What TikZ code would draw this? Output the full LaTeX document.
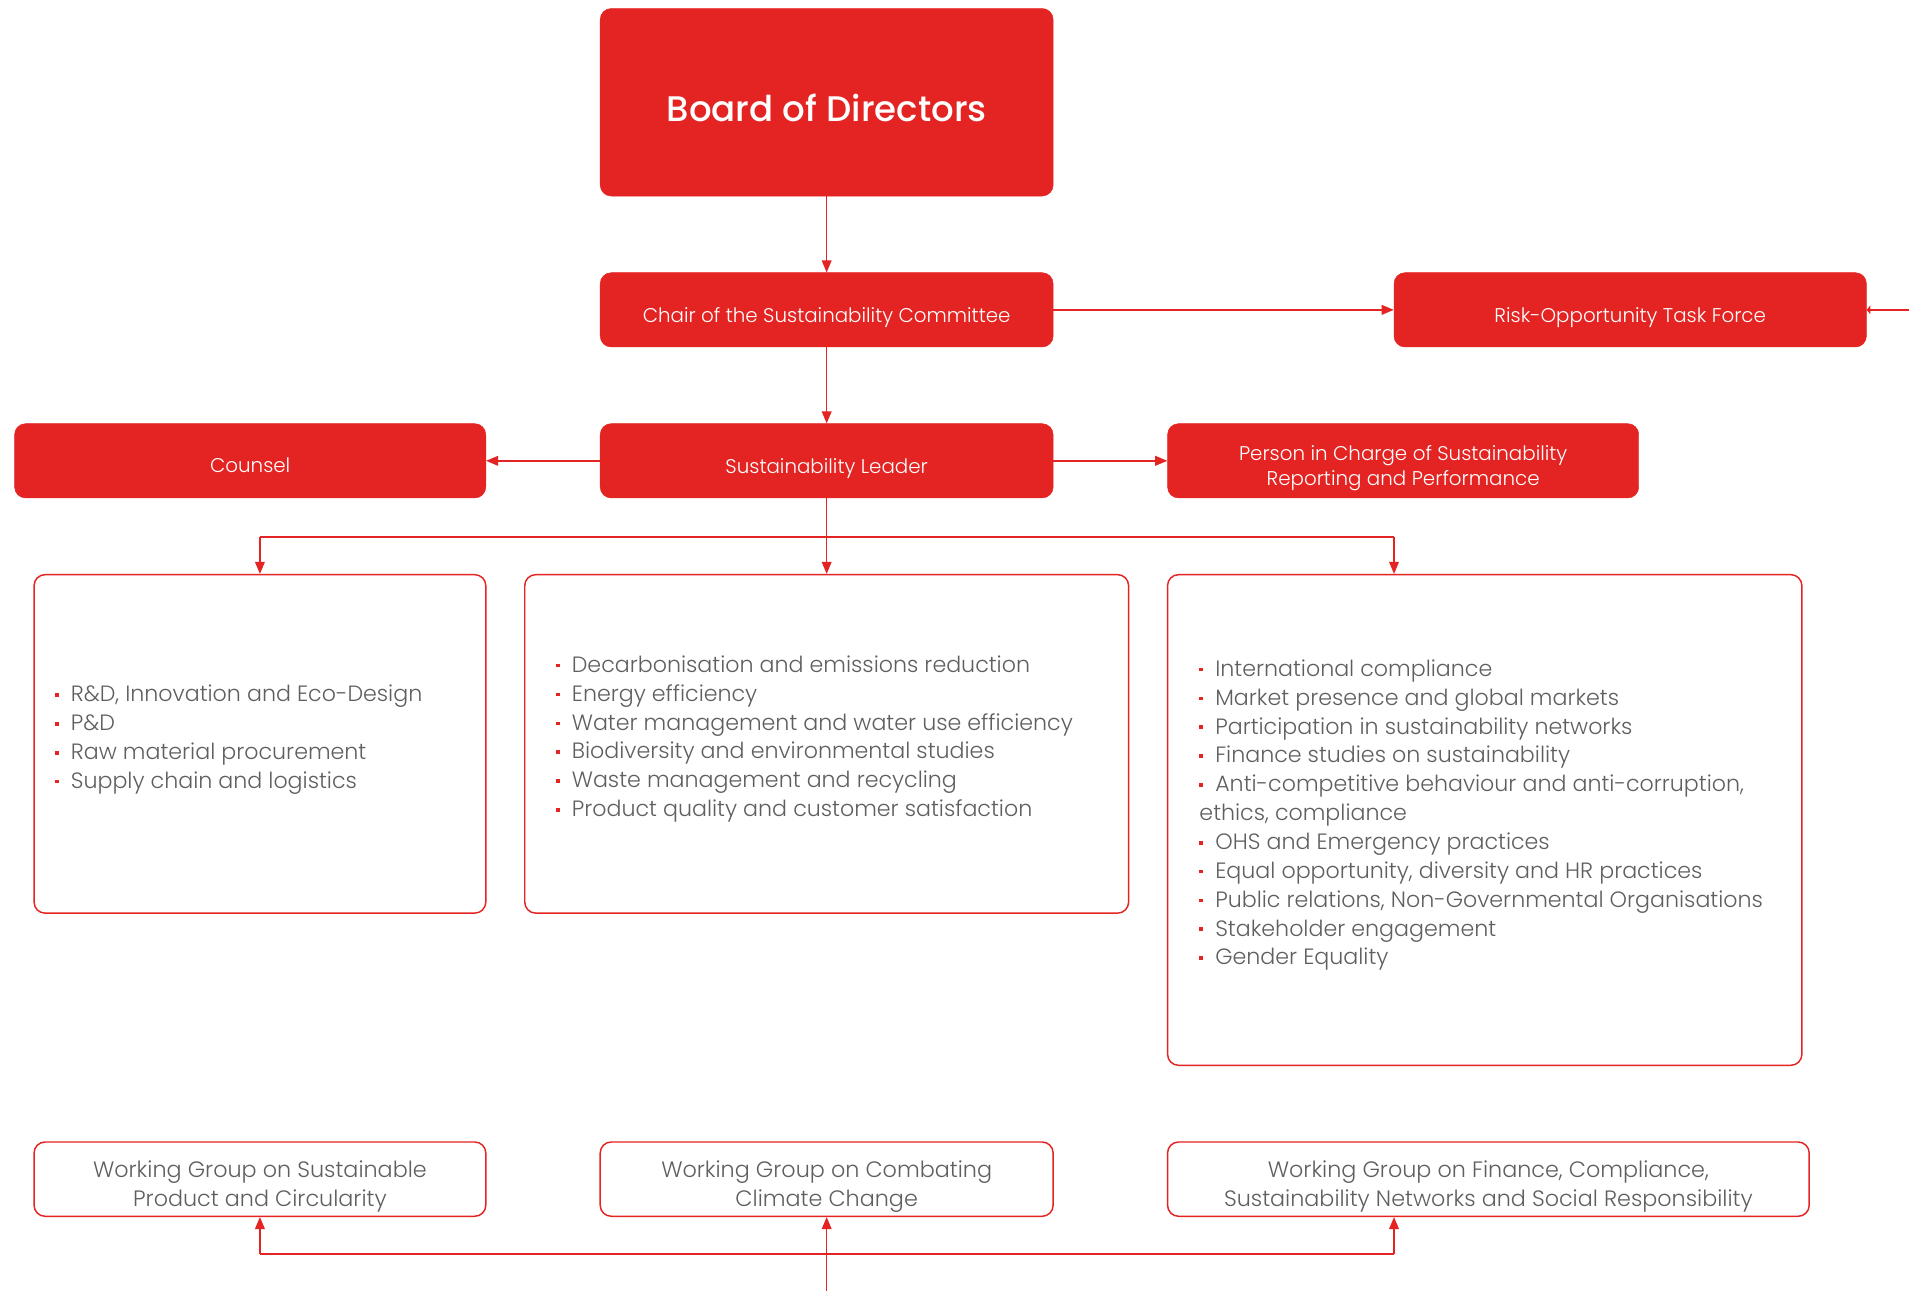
\documentclass[tikz,border=0pt]{standalone}
\usepackage{fontspec}
\setmainfont{Poppins}[UprightFont=* Light, BoldFont=* Medium]
\usetikzlibrary{arrows.meta}
\definecolor{rd}{HTML}{E42422}
\definecolor{gy}{HTML}{5F5F5F}
\newcommand\bl{{\color{rd}\rule[0.22em]{3pt}{3pt}}\hspace{10pt}}
\begin{document}
\begin{tikzpicture}[x=1pt,y=-1pt,
  redbox/.style={fill=rd, draw=rd, rounded corners=9pt, inner sep=0pt},
  wlbl/.style={text=white, align=center, inner sep=0pt, yshift=-6pt,
    font=\fontsize{16.3}{21}\selectfont},
  outbox/.style={draw=rd, line width=1.2pt, fill=white, rounded corners=9pt, inner sep=0pt},
  glbl/.style={text=gy, align=center, inner sep=0pt, yshift=-6pt,
    font=\fontsize{18.3}{24}\selectfont},
  listtext/.style={inner sep=0pt, text=gy, align=left, font=\fontsize{18.2}{23.7}\selectfont},
  conn/.style={draw=rd, line width=1.3pt, -{Triangle[length=10pt,width=8pt]}},
  plain/.style={draw=rd, line width=1.3pt}]
\useasboundingbox (0,0) rectangle (1568,1060.5);
% red boxes
\node[redbox, minimum width=372pt, minimum height=154pt,
  label={[wlbl, yshift=1pt, font=\fontsize{29.2}{36}\bfseries]center:Board of Directors}] (board) at (679,84) {};
\node[redbox, minimum width=372pt, minimum height=61pt,
  label={[wlbl]center:Chair of the Sustainability Committee}] (chair) at (679,254.5) {};
\node[redbox, minimum width=388pt, minimum height=61pt,
  label={[wlbl]center:Risk-Opportunity Task Force}] (risk) at (1339,254.5) {};
\node[redbox, minimum width=372pt, minimum height=61pt,
  label={[wlbl]center:Sustainability Leader}] (leader) at (679,378.5) {};
\node[redbox, minimum width=387pt, minimum height=61pt,
  label={[wlbl, yshift=2pt]center:Counsel}] (counsel) at (205.5,378.5) {};
\node[redbox, minimum width=387pt, minimum height=61pt,
  label={[wlbl]center:Person in Charge of Sustainability\\Reporting and Performance}] (person) at (1152.5,378.5) {};
% list boxes
\node[outbox, minimum width=371pt, minimum height=278pt] (box1) at (213.5,611) {};
\node[outbox, minimum width=496pt, minimum height=278pt] (box2) at (679,611) {};
\node[outbox, minimum width=521pt, minimum height=403pt] (box3) at (1219.5,673.5) {};
\node[listtext, anchor=west] (l1) at (45,607.5) {\bl R\&D, Innovation and Eco-Design\\\bl P\&D\\\bl Raw material procurement\\\bl Supply chain and logistics};
\node[listtext, anchor=west] (l2) at (456.5,607) {\bl Decarbonisation and emissions reduction\\\bl Energy efficiency\\\bl Water management and water use efficiency\\\bl Biodiversity and environmental studies\\\bl Waste management and recycling\\\bl Product quality and customer satisfaction};
\node[listtext, anchor=west] (l3) at (985,669.5) {\bl International compliance\\\bl Market presence and global markets\\\bl Participation in sustainability networks\\\bl Finance studies on sustainability\\\bl Anti-competitive behaviour and anti-corruption,\\ethics, compliance\\\bl OHS and Emergency practices\\\bl Equal opportunity, diversity and HR practices\\\bl Public relations, Non-Governmental Organisations\\\bl Stakeholder engagement\\\bl Gender Equality};
% working groups
\node[outbox, minimum width=371pt, minimum height=61pt,
  label={[glbl]center:Working Group on Sustainable\\Product and Circularity}] (wg1) at (213.5,968.5) {};
\node[outbox, minimum width=372pt, minimum height=61pt,
  label={[glbl]center:Working Group on Combating\\Climate Change}] (wg2) at (679,968.5) {};
\node[outbox, minimum width=527pt, minimum height=61pt,
  label={[glbl]center:Working Group on Finance, Compliance,\\Sustainability Networks and Social Responsibility}] (wg3) at (1222.5,968.5) {};
% connectors
\draw[conn] (board) -- (chair);
\draw[conn] (chair) -- (risk);
\draw[conn] (chair) -- (leader);
\draw[conn] (leader) -- (counsel);
\draw[conn] (leader) -- (person);
\draw[conn] (leader) -- (box2);
\coordinate (j1) at (213.5,441);
\coordinate (j3) at (1145,441);
\draw[plain] (j1) -- (j3);
\draw[conn] (j1) -- (box1);
\draw[conn] (j3) -- (j3 |- box3.north);
\coordinate (rin) at (1568,254.5);
\draw[draw=rd, line width=1.3pt, -{Triangle[length=3pt,width=7pt]}] (rin) -- (risk);
\coordinate (b2) at (679,1060.5);
\coordinate (b1) at (213.5,1030);
\coordinate (b3) at (1145,1030);
\draw[conn] (b2) -- (wg2);
\draw[plain] (b1) -- (b3);
\draw[conn] (b1) -- (wg1);
\draw[conn] (b3) -- (b3 |- wg3.south);
\end{tikzpicture}
\end{document}
